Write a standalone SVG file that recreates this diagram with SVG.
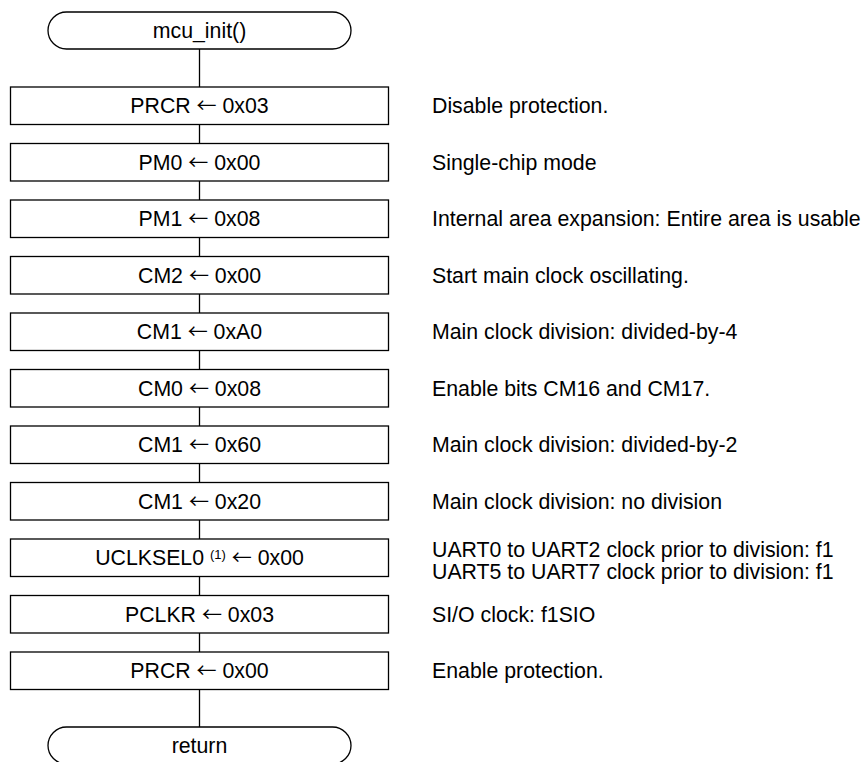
<svg xmlns="http://www.w3.org/2000/svg" width="864" height="762" viewBox="0 0 864 762">
<style>
  .box { fill: #fff; stroke: #000; stroke-width: 1.3; }
  .conn line { stroke: #000; stroke-width: 1.3; }
  text { font-family: "Liberation Sans", Arial, sans-serif; font-size: 21.3px; fill: #000; }
  .c { text-anchor: middle; }
  .sup { font-size: 13px; }
  .ar { font-family: "Noto Sans CJK JP", "DejaVu Sans", sans-serif; font-size: 20px; }
</style>
<rect width="864" height="762" fill="#fff"/>
<g id="connectors" class="conn">
  <line x1="199.5" y1="49" x2="199.5" y2="87"/>
  <line x1="199.5" y1="124.5" x2="199.5" y2="143.5"/>
  <line x1="199.5" y1="181" x2="199.5" y2="200"/>
  <line x1="199.5" y1="237.5" x2="199.5" y2="256.5"/>
  <line x1="199.5" y1="294" x2="199.5" y2="313"/>
  <line x1="199.5" y1="350.5" x2="199.5" y2="369.5"/>
  <line x1="199.5" y1="407" x2="199.5" y2="426"/>
  <line x1="199.5" y1="463.5" x2="199.5" y2="482.5"/>
  <line x1="199.5" y1="520" x2="199.5" y2="539"/>
  <line x1="199.5" y1="576.5" x2="199.5" y2="595.5"/>
  <line x1="199.5" y1="633" x2="199.5" y2="652"/>
  <line x1="199.5" y1="689.5" x2="199.5" y2="727"/>
</g>
<g id="start">
  <rect class="box" x="48" y="12" width="303" height="37" rx="18.5" ry="18.5"/>
  <text class="c" x="199.5" y="38">mcu_init()</text>
</g>
<g id="n1">
  <rect class="box" x="10.5" y="87" width="378" height="37.5"/>
  <text class="c" x="199.5" y="113">PRCR <tspan class="ar">←</tspan> 0x03</text>
  <text x="432" y="113">Disable protection.</text>
</g>
<g id="n2">
  <rect class="box" x="10.5" y="143.5" width="378" height="37.5"/>
  <text class="c" x="199.5" y="169.5">PM0 <tspan class="ar">←</tspan> 0x00</text>
  <text x="432" y="169.5">Single-chip mode</text>
</g>
<g id="n3">
  <rect class="box" x="10.5" y="200" width="378" height="37.5"/>
  <text class="c" x="199.5" y="226">PM1 <tspan class="ar">←</tspan> 0x08</text>
  <text x="432" y="226">Internal area expansion: Entire area is usable</text>
</g>
<g id="n4">
  <rect class="box" x="10.5" y="256.5" width="378" height="37.5"/>
  <text class="c" x="199.5" y="282.5">CM2 <tspan class="ar">←</tspan> 0x00</text>
  <text x="432" y="282.5">Start main clock oscillating.</text>
</g>
<g id="n5">
  <rect class="box" x="10.5" y="313" width="378" height="37.5"/>
  <text class="c" x="199.5" y="339">CM1 <tspan class="ar">←</tspan> 0xA0</text>
  <text x="432" y="339">Main clock division: divided-by-4</text>
</g>
<g id="n6">
  <rect class="box" x="10.5" y="369.5" width="378" height="37.5"/>
  <text class="c" x="199.5" y="395.5">CM0 <tspan class="ar">←</tspan> 0x08</text>
  <text x="432" y="395.5">Enable bits CM16 and CM17.</text>
</g>
<g id="n7">
  <rect class="box" x="10.5" y="426" width="378" height="37.5"/>
  <text class="c" x="199.5" y="452">CM1 <tspan class="ar">←</tspan> 0x60</text>
  <text x="432" y="452">Main clock division: divided-by-2</text>
</g>
<g id="n8">
  <rect class="box" x="10.5" y="482.5" width="378" height="37.5"/>
  <text class="c" x="199.5" y="508.5">CM1 <tspan class="ar">←</tspan> 0x20</text>
  <text x="432" y="508.5">Main clock division: no division</text>
</g>
<g id="n9">
  <rect class="box" x="10.5" y="539" width="378" height="37.5"/>
  <text class="c" x="199.5" y="565">UCLKSEL0 <tspan class="sup" dy="-6">(1)</tspan><tspan dy="6"> </tspan><tspan class="ar">←</tspan> 0x00</text>
  <text x="432" y="557">UART0 to UART2 clock prior to division: f1</text>
  <text x="432" y="579">UART5 to UART7 clock prior to division: f1</text>
</g>
<g id="n10">
  <rect class="box" x="10.5" y="595.5" width="378" height="37.5"/>
  <text class="c" x="199.5" y="621.5">PCLKR <tspan class="ar">←</tspan> 0x03</text>
  <text x="432" y="621.5">SI/O clock: f1SIO</text>
</g>
<g id="n11">
  <rect class="box" x="10.5" y="652" width="378" height="37.5"/>
  <text class="c" x="199.5" y="678">PRCR <tspan class="ar">←</tspan> 0x00</text>
  <text x="432" y="678">Enable protection.</text>
</g>
<g id="end">
  <rect class="box" x="48" y="727" width="303" height="37" rx="18.5" ry="18.5"/>
  <text class="c" x="199.5" y="753">return</text>
</g>
</svg>
